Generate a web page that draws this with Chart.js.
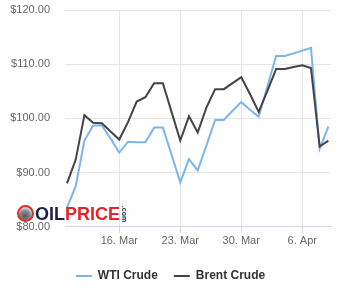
<!DOCTYPE html>
<html>
<head>
<meta charset="utf-8">
<script src="https://cdn.jsdelivr.net/npm/chart.js@4"></script>
<style>
    html, body { margin: 0; padding: 0; background: #ffffff; }
    #wrap { position: relative; width: 341px; height: 300px; }
    #logo {
        position: absolute; left: 17px; top: 204px;
        font-family: "Liberation Sans", Arial, sans-serif;
        font-weight: bold; font-size: 18px; line-height: 20px;
        white-space: nowrap; pointer-events: none;
    }
    #logo .drop {
        display: inline-block; width: 13px; height: 13px; border-radius: 50%;
        border: 2px solid #d8322b; margin-right: 1px; vertical-align: -2px;
        background: radial-gradient(circle at 45% 70%, #555 0, #888 45%, #ddd 75%);
    }
    #logo .oil { color: #1c1f4a; }
    #logo .price { color: #e2232a; }
    #logo .com {
        display: inline-block; font-size: 7px; color: #1c1f4a; font-weight: bold;
        transform: rotate(90deg); vertical-align: 4px; margin-left: -4px;
    }
</style>
</head>
<body>
<div id="wrap">
    <canvas id="oilChart" width="341" height="300"></canvas>
    <div id="logo"><span class="drop"></span><span class="oil">OIL</span><span class="price">PRICE</span><span class="com">.com</span></div>
</div>
<script>
// Daily dates shown along the x axis
const dates = ['10. Mar', '11. Mar', '12. Mar', '13. Mar', '14. Mar', '15. Mar', '16. Mar',
    '17. Mar', '18. Mar', '19. Mar', '20. Mar', '21. Mar', '22. Mar', '23. Mar',
    '24. Mar', '25. Mar', '26. Mar', '27. Mar', '28. Mar', '29. Mar', '30. Mar',
    '31. Mar', '1. Apr', '2. Apr', '3. Apr', '4. Apr', '5. Apr', '6. Apr',
    '7. Apr', '8. Apr', '9. Apr'];

const wtiCrude = [83.5, 87.5, 95.9, 98.7, 98.7, 96.3, 93.7, 95.7, 95.6, 95.6, 98.3, 98.3, 93.3, 88.2,
    92.5, 90.4, 95.0, 99.7, 99.7, 101.4, 103.0, 101.6, 100.3, 105.9, 111.5, 111.5, 112.0, 112.5,
    113.0, 94.4, 98.5];

const brentCrude = [88.0, 92.4, 100.6, 99.2, 99.1, 97.6, 96.1, 99.3, 103.1, 103.9, 106.5, 106.5, 101.2, 95.9,
    100.4, 97.4, 102.0, 105.4, 105.4, 106.5, 107.6, 104.5, 101.2, 105.1, 109.1, 109.1, 109.5, 109.8,
    109.3, 94.8, 95.9];

// Labelled dates on the x axis and price ticks
const xTickLabels = ['16. Mar', '23. Mar', '30. Mar', '6. Apr'];
const yTicks = [80, 90, 100, 110, 120];

const axisFont = { family: '"Liberation Sans", Arial, sans-serif', size: 11 };

function toPoints(values) {
    return values.map((v, i) => ({ x: i, y: v }));
}

function createOilChart() {
    const ctx = document.getElementById('oilChart').getContext('2d');

    new Chart(ctx, {
        type: 'line',
        data: {
            datasets: [
                {
                    label: 'WTI Crude',
                    data: toPoints(wtiCrude),
                    borderColor: '#7cb5ec',
                    backgroundColor: '#7cb5ec',
                    borderWidth: 2,
                    pointRadius: 0,
                    tension: 0,
                    order: 1
                },
                {
                    label: 'Brent Crude',
                    data: toPoints(brentCrude),
                    borderColor: '#434348',
                    backgroundColor: '#434348',
                    borderWidth: 2,
                    pointRadius: 0,
                    tension: 0,
                    order: 0
                }
            ]
        },
        options: {
            responsive: false,
            animation: false,
            layout: { padding: { top: 10, left: 10, right: 10, bottom: 8 } },
            scales: {
                x: {
                    type: 'linear',
                    min: -0.23,
                    max: 30.3,
                    afterBuildTicks: function(axis) {
                        axis.ticks = xTickLabels.map(l => ({ value: dates.indexOf(l) }));
                    },
                    afterFit: function(axis) {
                        axis.height += 4;
                    },
                    ticks: {
                        autoSkip: false,
                        maxRotation: 0,
                        padding: 2,
                        color: '#666666',
                        font: axisFont,
                        callback: function(value) {
                            return dates[value];
                        }
                    },
                    grid: {
                        color: '#e6e6e6',
                        tickColor: '#ccd6eb',
                        tickLength: 6
                    },
                    border: { color: '#ccd6eb' }
                },
                y: {
                    min: 80,
                    max: 120,
                    afterBuildTicks: function(axis) {
                        axis.ticks = yTicks.map(v => ({ value: v }));
                    },
                    afterFit: function(axis) {
                        axis.width = 55;
                        axis.paddingTop = 0;
                        axis.paddingBottom = 0;
                    },
                    ticks: {
                        padding: 15,
                        color: '#666666',
                        font: axisFont,
                        callback: function(value) {
                            return '$' + value.toFixed(2);
                        }
                    },
                    grid: { color: '#e6e6e6', drawTicks: false },
                    border: { display: false }
                }
            },
            plugins: {
                legend: {
                    position: 'bottom',
                    labels: {
                        boxWidth: 16,
                        boxHeight: 2,
                        padding: 16,
                        color: '#333333',
                        font: { family: '"Liberation Sans", Arial, sans-serif', size: 12, weight: 'bold' },
                        sort: (a, b) => a.datasetIndex - b.datasetIndex,
                        generateLabels: function(chart) {
                            const items = Chart.defaults.plugins.legend.labels.generateLabels(chart);
                            items.forEach(item => { item.lineWidth = 0; });
                            return items;
                        }
                    }
                },
                tooltip: { enabled: false }
            }
        }
    });
}

createOilChart();
</script>
</body>
</html>
